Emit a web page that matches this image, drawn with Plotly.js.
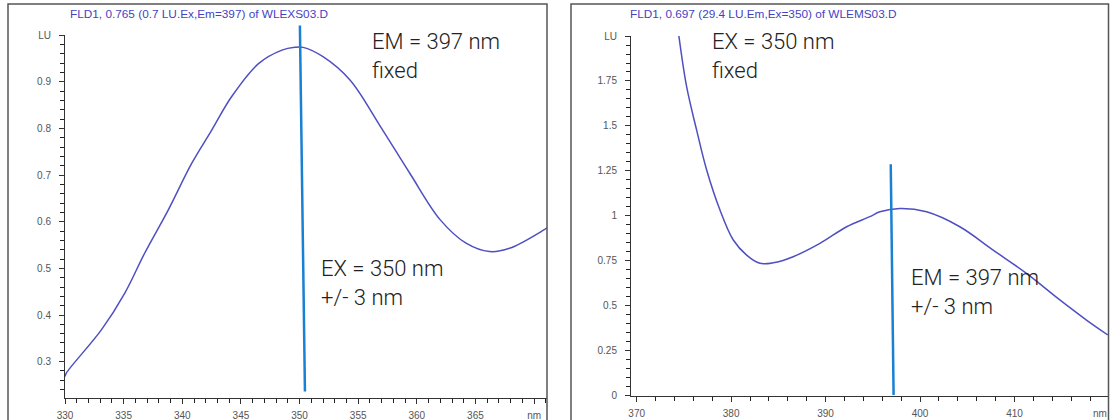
<!DOCTYPE html>
<html><head><meta charset="utf-8">
<script src="https://cdn.plot.ly/plotly-3.0.1.min.js"></script>
<style>body{margin:0;background:#fff}#chart{width:1110px;height:420px}</style>
</head><body><div id="chart"></div><script>
// Excitation scan (EM = 397 nm fixed)
const exWavelength = [330.0, 330.1, 333.1, 335.1, 336.8, 338.8, 340.8, 342.5, 344.2, 346.5, 348.5, 349.6, 350.3, 352.0, 354.3, 356.9, 359.4, 362.0, 364.2, 366.2, 367.9, 370.8, 371.1];
const exIntensity  = [0.268, 0.275, 0.368, 0.447, 0.533, 0.625, 0.725, 0.796, 0.868, 0.939, 0.968, 0.974, 0.974, 0.954, 0.904, 0.804, 0.704, 0.604, 0.554, 0.536, 0.543, 0.582, 0.587];
// Emission scan (EX = 350 nm fixed)
const emWavelength = [374.41, 375.29, 376.35, 377.41, 378.82, 380.23, 381.64, 383.05, 384.46, 386.57, 389.40, 392.23, 394.69, 395.75, 397.87, 400.69, 404.21, 407.74, 411.27, 414.80, 417.62, 419.88];
const emIntensity  = [2.024, 1.718, 1.476, 1.254, 1.031, 0.864, 0.780, 0.734, 0.737, 0.771, 0.845, 0.938, 0.994, 1.021, 1.040, 1.021, 0.938, 0.808, 0.678, 0.530, 0.418, 0.335];

// axis tick settings
const exXTick0 = 330, exXStep = 5, exXMinor = 1;
const exYTick0 = 0.3, exYStep = 0.1, exYMinor = 0.02;
const emXTick0 = 370, emXStep = 10, emXMinor = 2;
const emYTick0 = 0, emYStep = 0.25, emYMinor = 0.05;
const unitY = 'LU', unitX = 'nm';

const leftTitle = 'FLD1, 0.765 (0.7 LU.Ex,Em=397) of WLEXS03.D';
const rightTitle = 'FLD1, 0.697 (29.4 LU.Em,Ex=350) of WLEMS03.D';

// wavelength marker lines in data units
const exMarker = {xTop: 350.03, xBottom: 350.46, yTop: 1.021, yBottom: 0.236};
const emMarker = {xTop: 396.9, xBottom: 397.2, yTop: 1.286, yBottom: 0.0};

const W = 1110, H = 420;
const px = v => v / W, py = v => (H - v) / H;
const leftDom = {x: [px(65), px(547)], y: [py(398), py(35)]};
const rightDom = {x: [px(631), px(1108)], y: [py(396), py(36)]};
const leftXRange = [330, 371.1], leftYRange = [0.222, 1.0005];
const rightXRange = [369.4, 419.9], rightYRange = [-0.005, 2.0005];

function toPaper(v, range, dom) {
  return dom[0] + (v - range[0]) / (range[1] - range[0]) * (dom[1] - dom[0]);
}

const curveLine = {color: '#4f4fc2', width: 1.5, shape: 'spline', smoothing: 1.0};

const traces = [
  {x: exWavelength, y: exIntensity, xaxis: 'x', yaxis: 'y', mode: 'lines', line: curveLine, hoverinfo: 'skip'},
  {x: emWavelength, y: emIntensity, xaxis: 'x2', yaxis: 'y2', mode: 'lines', line: curveLine, hoverinfo: 'skip'}
];

const tickFont = {family: 'Liberation Sans, Arial, sans-serif', size: 10, color: '#555'};
function axis(dom, range, tick0, dtick, minorStep, anchor, standoff, alias) {
  const a = {domain: dom, range: range, anchor: anchor, tickmode: 'linear', tick0: tick0, dtick: dtick,
    ticks: 'outside', ticklen: 5, tickcolor: '#333', tickwidth: 1,
    showline: true, linecolor: '#333', linewidth: 1, showgrid: false, zeroline: false,
    tickfont: tickFont, ticklabelstandoff: standoff,
    minor: {tickmode: 'linear', tick0: tick0, dtick: minorStep, ticks: 'outside', ticklen: 4, tickcolor: '#222', tickwidth: 1, showgrid: false}};
  if (alias) a.labelalias = alias;
  return a;
}

const labelSize = 22;
const labelFont = {family: 'Roboto, sans-serif', size: labelSize, color: '#222', weight: 300};
const titleFont = {family: 'Liberation Sans, Arial, sans-serif', size: 11.8, color: '#4343c4'};

// text labels: [text, left px, first-line baseline px]
const labels = [
  ['EM = 397 nm<br>fixed', 371, 49],
  ['EX = 350 nm<br>+/- 3 nm', 320, 276],
  ['EX = 350 nm<br>fixed', 711, 49],
  ['EM = 397 nm<br>+/- 3 nm', 910, 285]
];

const annotations = [
  {xref: 'paper', yref: 'paper', x: px(68), y: py(14), xanchor: 'left', yanchor: 'middle',
    text: leftTitle, showarrow: false, font: titleFont},
  {xref: 'paper', yref: 'paper', x: px(628), y: py(14), xanchor: 'left', yanchor: 'middle',
    text: rightTitle, showarrow: false, font: titleFont},
  {xref: 'x2', yref: 'paper', x: 419.0, y: py(413), xanchor: 'center', yanchor: 'middle',
    text: unitX, showarrow: false, font: tickFont}
];
const lineStep = 1.3 * labelSize;
labels.forEach(([t, x, b]) => annotations.push({
  xref: 'paper', yref: 'paper', x: px(x), y: py(b - 7.5 + lineStep / 2), xanchor: 'left', yanchor: 'middle', align: 'left',
  text: t, showarrow: false, font: labelFont, borderpad: 0
}));

const layout = {
  width: W, height: H,
  margin: {l: 0, r: 0, t: 0, b: 0},
  paper_bgcolor: '#fff', plot_bgcolor: '#fff',
  showlegend: false,
  xaxis: axis(leftDom.x, leftXRange, exXTick0, exXStep, exXMinor, 'y', 3, {'370': unitX}),
  yaxis: axis(leftDom.y, leftYRange, exYTick0, exYStep, exYMinor, 'x', 6, {'1': unitY}),
  xaxis2: axis(rightDom.x, rightXRange, emXTick0, emXStep, emXMinor, 'y2', 3),
  yaxis2: axis(rightDom.y, rightYRange, emYTick0, emYStep, emYMinor, 'x2', 6, {'2': unitY}),
  shapes: [
    {type: 'rect', xref: 'paper', yref: 'paper', x0: px(8), x1: px(547), y0: -0.05, y1: py(4),
      line: {color: '#555', width: 1.5}, layer: 'above'},
    {type: 'rect', xref: 'paper', yref: 'paper', x0: px(571), x1: px(1108.5), y0: -0.05, y1: py(4),
      line: {color: '#555', width: 1.5}, layer: 'above'},
    {type: 'line', xref: 'x', yref: 'paper', x0: exMarker.xTop, x1: exMarker.xBottom,
      y0: toPaper(exMarker.yTop, leftYRange, leftDom.y), y1: toPaper(exMarker.yBottom, leftYRange, leftDom.y),
      line: {color: '#1a80d2', width: 2.5}, layer: 'above'},
    {type: 'line', xref: 'x2', yref: 'paper', x0: emMarker.xTop, x1: emMarker.xBottom,
      y0: toPaper(emMarker.yTop, rightYRange, rightDom.y), y1: toPaper(emMarker.yBottom, rightYRange, rightDom.y),
      line: {color: '#1a80d2', width: 2.5}, layer: 'above'}
  ],
  annotations: annotations
};

Plotly.newPlot('chart', traces, layout, {staticPlot: true, displayModeBar: false});
</script></body></html>
